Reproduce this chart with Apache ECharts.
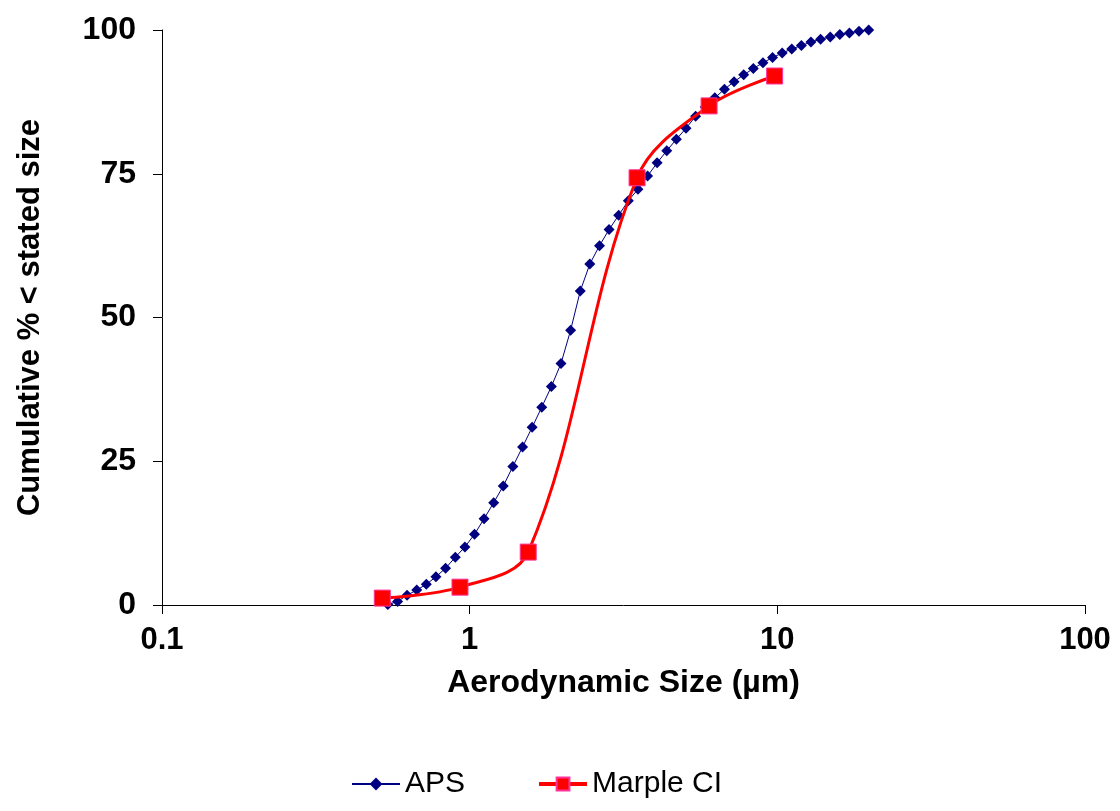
<!DOCTYPE html>
<html>
<head>
<meta charset="utf-8">
<script src="https://cdn.jsdelivr.net/npm/echarts@6/dist/echarts.min.js"></script>
<style>
html, body { margin: 0; padding: 0; background: #fff; }
#chart { width: 1120px; height: 811px; }
</style>
</head>
<body>
<div id="chart"></div>
<script>
// APS channel midpoints (um) and cumulative %
const apsSize = [0.542, 0.583, 0.626, 0.673, 0.723, 0.777, 0.835, 0.898, 0.965, 1.037,
    1.114, 1.197, 1.286, 1.382, 1.486, 1.596, 1.715, 1.843, 1.981, 2.129,
    2.288, 2.458, 2.642, 2.839, 3.051, 3.278, 3.523, 3.786, 4.068, 4.371,
    4.698, 5.048, 5.425, 5.829, 6.264, 6.732, 7.234, 7.774, 8.354, 8.977,
    9.647, 10.37, 11.14, 11.97, 12.86, 13.82, 14.86, 15.96, 17.15, 18.43, 19.81];
const apsCum = [0.1, 0.6, 1.7, 2.6, 3.6, 4.9, 6.4, 8.3, 10.1, 12.3,
    15.0, 17.8, 20.7, 24.1, 27.5, 30.9, 34.4, 38.0, 42.0, 47.8,
    54.6, 59.3, 62.5, 65.3, 67.8, 70.3, 72.3, 74.6, 76.9, 79.0,
    81.0, 82.9, 85.0, 86.6, 88.2, 89.7, 91.0, 92.2, 93.3, 94.3,
    95.2, 96.0, 96.7, 97.3, 97.9, 98.4, 98.8, 99.2, 99.5, 99.8, 100];

// Marple cascade impactor cut points (um) and cumulative %
const marpleSize = [0.52, 0.93, 1.55, 3.5, 6.0, 9.8];
const marpleCum = [1.2, 3.1, 9.2, 74.3, 86.8, 92.0];

const xTicks = [0.1, 1, 10, 100];
const yTicks = [0, 25, 50, 75, 100];

const font = "'Liberation Sans', Arial, sans-serif";

const chart = echarts.init(document.getElementById("chart"));

chart.setOption({
    animation: false,
    backgroundColor: "#ffffff",
    grid: { left: 162, right: 35, top: 30, bottom: 206 },
    legend: {
        bottom: 7,
        left: 346,
        itemGap: 72,
        itemWidth: 48,
        itemHeight: 16,
        textStyle: { fontFamily: font, fontSize: 30, color: "#000" },
        data: [
            { name: "APS" },
            { name: "Marple CI", lineStyle: { width: 4, color: "#ff0000" } }
        ]
    },
    xAxis: {
        type: "log",
        logBase: 10,
        min: xTicks[0],
        max: xTicks[xTicks.length - 1],
        name: "Aerodynamic Size (µm)",
        nameLocation: "middle",
        nameGap: 62,
        nameTextStyle: { fontFamily: font, fontSize: 32, fontWeight: "bold", color: "#000" },
        axisLine: { lineStyle: { color: "#000", width: 1 } },
        axisTick: { show: true, length: 9, lineStyle: { color: "#000" } },
        minorTick: { show: false },
        splitLine: { show: false },
        axisLabel: {
            margin: 20,
            fontFamily: font, fontSize: 31, fontWeight: "bold", color: "#000",
            formatter: (v) => String(+v.toPrecision(3))
        }
    },
    yAxis: {
        type: "value",
        min: yTicks[0],
        max: yTicks[yTicks.length - 1],
        interval: 25,
        name: "Cumulative % < stated size",
        nameLocation: "middle",
        nameGap: 116,
        nameTextStyle: { fontFamily: font, fontSize: 31, fontWeight: "bold", color: "#000" },
        axisLine: { show: true, lineStyle: { color: "#000", width: 1 } },
        axisTick: { show: true, length: 9, lineStyle: { color: "#000" } },
        splitLine: { show: false },
        axisLabel: {
            margin: 26,
            fontFamily: font, fontSize: 32, fontWeight: "bold", color: "#000"
        }
    },
    series: [
        {
            name: "APS",
            type: "line",
            data: apsSize.map((s, i) => [s, apsCum[i]]),
            symbol: "diamond",
            symbolSize: 11,
            itemStyle: { color: "#000080" },
            lineStyle: { color: "#000080", width: 1 },
            z: 2
        },
        {
            name: "Marple CI",
            type: "line",
            data: marpleSize.map((s, i) => [s, marpleCum[i]]),
            smooth: 0.35,
            symbol: "rect",
            symbolSize: 16,
            itemStyle: { color: "#ff0000", borderColor: "#ff3399", borderWidth: 1 },
            lineStyle: { color: "#ff0000", width: 3 },
            z: 3
        }
    ]
});
</script>
</body>
</html>
